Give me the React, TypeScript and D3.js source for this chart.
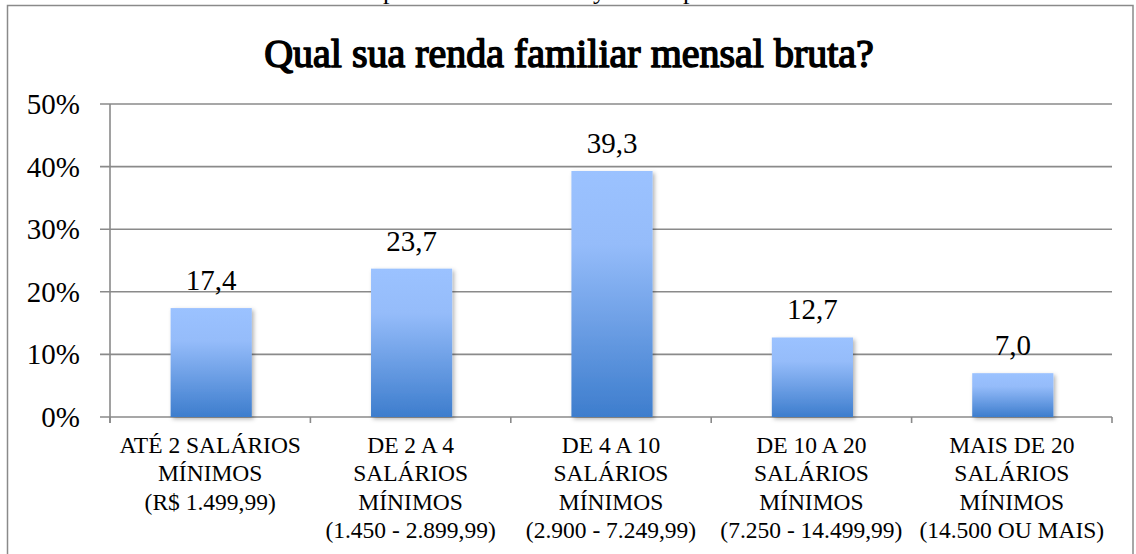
import React from "react";
import * as d3 from "d3";

const categories: string[][] = [
  ["ATÉ 2 SALÁRIOS", "MÍNIMOS", "(R$ 1.499,99)"],
  ["DE 2 A 4", "SALÁRIOS", "MÍNIMOS", "(1.450 - 2.899,99)"],
  ["DE 4 A 10", "SALÁRIOS", "MÍNIMOS", "(2.900 - 7.249,99)"],
  ["DE 10 A 20", "SALÁRIOS", "MÍNIMOS", "(7.250 - 14.499,99)"],
  ["MAIS DE 20", "SALÁRIOS", "MÍNIMOS", "(14.500 OU MAIS)"],
];
const values: number[] = [17.4, 23.7, 39.3, 12.7, 7.0];
const valueLabels: string[] = ["17,4", "23,7", "39,3", "12,7", "7,0"];
const yTicks: number[] = [0, 10, 20, 30, 40, 50];
const title = "Qual sua renda familiar mensal bruta?";

const W = 1136;
const H = 554;
const FONT = "Liberation Serif, Times New Roman, serif";

export default function App() {
  const left = 110;
  const right = 1112;
  const top = 104;
  const bottom = 417;
  const y = d3.scaleLinear().domain([0, 50]).range([bottom, top]);
  const x = d3
    .scaleBand<number>()
    .domain(d3.range(categories.length))
    .range([left, right])
    .padding(0);
  const barW = x.bandwidth() * 0.405;
  const grid = "#8a8a8a";

  return (
    <svg
      width={W}
      height={H}
      style={{ position: "absolute", left: 0, top: 0, background: "#fff", fontFamily: FONT }}
    >
      <defs>
        <linearGradient id="barGrad" x1="0" y1="0" x2="0" y2="1">
          <stop offset="0" stopColor="#9bc2ff" />
          <stop offset="0.3" stopColor="#95bcfa" />
          <stop offset="1" stopColor="#3d7dcd" />
        </linearGradient>
        <filter id="shadow" x="-20%" y="-20%" width="140%" height="140%">
          <feDropShadow dx="2" dy="2" stdDeviation="2" floodColor="#000" floodOpacity="0.3" />
        </filter>
      </defs>

      {/* outer border */}
      <rect x={7.5} y={5.5} width={1125.5} height={560} fill="none" stroke="#8a8a8a" strokeWidth={1.5} />

      {/* cut-off caption descenders (line above the chart, cropped in the reference) */}
      <g fontSize={26} fill="#000">
        <text x={383} y={-1}>p</text>
        <text x={593} y={-1}>y</text>
        <text x={683} y={-1}>p</text>
      </g>

      <text
        x={W / 2 + 1}
        y={67}
        textAnchor="middle"
        fontSize={40}
        fill="#000"
        stroke="#000"
        strokeWidth={1.5}
        strokeLinejoin="round"
      >
        {title}
      </text>

      {/* gridlines */}
      {yTicks.map((t) => (
        <line key={t} x1={left - 10} x2={right} y1={y(t)} y2={y(t)} stroke={grid} strokeWidth={1.6} />
      ))}
      {/* y axis */}
      <line x1={left} x2={left} y1={top} y2={bottom + 6} stroke={grid} strokeWidth={1.6} />
      {yTicks.map((t) => (
        <text key={"l" + t} x={80} y={y(t) + 10} textAnchor="end" fontSize={29} fill="#000">
          {t + "%"}
        </text>
      ))}
      {/* x ticks */}
      {d3.range(categories.length + 1).map((i) => {
        const xx = left + i * x.step();
        return <line key={"t" + i} x1={xx} x2={xx} y1={bottom} y2={bottom + 6} stroke={grid} strokeWidth={1.6} />;
      })}

      {/* bars */}
      {values.map((v, i) => {
        const cx = (x(i) as number) + x.bandwidth() / 2 + 1;
        return (
          <rect
            key={"b" + i}
            x={cx - barW / 2}
            y={y(v)}
            width={barW}
            height={bottom - y(v)}
            fill="url(#barGrad)"
            filter="url(#shadow)"
          />
        );
      })}

      {/* value labels */}
      {values.map((v, i) => {
        const cx = (x(i) as number) + x.bandwidth() / 2 + 1;
        return (
          <text key={"v" + i} x={cx} y={y(v) - 18} textAnchor="middle" fontSize={29} fill="#000">
            {valueLabels[i]}
          </text>
        );
      })}

      {/* category labels */}
      {categories.map((lines, i) => {
        const cx = (x(i) as number) + x.bandwidth() / 2;
        return (
          <text key={"c" + i} textAnchor="middle" fontSize={23.5} fill="#000">
            {lines.map((ln, j) => (
              <tspan key={j} x={cx} y={453 + j * 28.3}>
                {ln}
              </tspan>
            ))}
          </text>
        );
      })}
    </svg>
  );
}
